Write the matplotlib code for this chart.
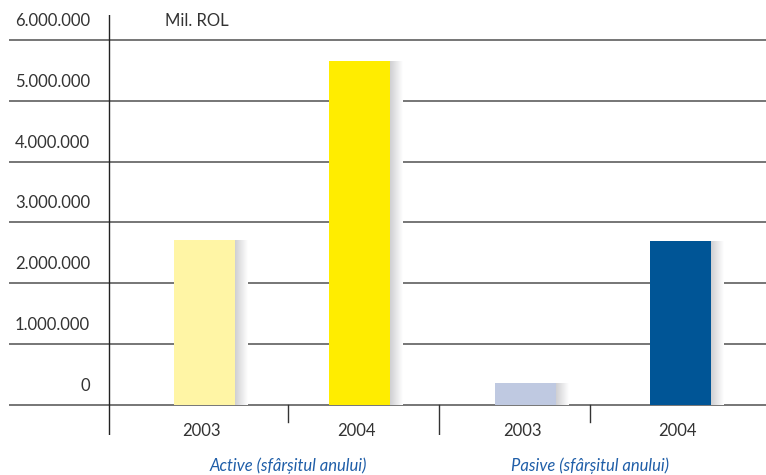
import numpy as np
import matplotlib.pyplot as plt
from matplotlib.colors import LinearSegmentedColormap
from matplotlib.transforms import blended_transform_factory

groups = ["Active (sfârșitul anului)", "Pasive (sfârșitul anului)"]
years = ["2003", "2004", "2003", "2004"]
values = [2710000, 5660000, 360000, 2690000]
colors = ["#FFF5A5", "#FFED00", "#BFC9E1", "#005596"]
yticks = [0, 1000000, 2000000, 3000000, 4000000, 5000000, 6000000]
ytick_labels = ["0", "1.000.000", "2.000.000", "3.000.000", "4.000.000", "5.000.000", "6.000.000"]

plt.rcParams['font.family'] = ['Lato', 'DejaVu Sans']
text_color = "#333333"

# bar positions: two per group, small extra gap between groups
gap = 0.07
xpos = np.array([g * (2 + gap) + i for g in range(2) for i in range(2)])
width = 0.394
shadow_w = 0.08

fig = plt.figure(figsize=(7.66, 4.75), dpi=100)
ax = fig.add_axes([9 / 766, 40 / 475, 757 / 766, 420 / 475])

shade = LinearSegmentedColormap.from_list("shade", ["#cfcfd2", "#ffffff"])
grad = np.linspace(0, 1, 64).reshape(1, -1)
for x, v, c in zip(xpos, values, colors):
    ax.imshow(grad, cmap=shade, aspect='auto', zorder=2,
              extent=[x + width / 2, x + width / 2 + shadow_w, 0, v])
    ax.bar(x, v, width=width, color=c, zorder=3)

ax.set_xlim(-1.261, 3.623)
ax.set_ylim(-502000, 6412000)
ax.axis('off')

# horizontal grid lines across the whole width
for t in yticks:
    ax.axhline(t, color="#6b6b6b", lw=1.3, zorder=1)

# vertical axis line and group separators
ax.axvline(-0.616, color="#222222", lw=1.0, zorder=4)
ax.axvline(0.539, ymin=0.031, ymax=0.0714, color="#333333", lw=1.0)
ax.axvline(1.513, ymin=0.0, ymax=0.0714, color="#333333", lw=1.0)
ax.axvline(2.487, ymin=0.031, ymax=0.0714, color="#333333", lw=1.0)

trans = blended_transform_factory(ax.transAxes, ax.transData)
for t, lab in zip(yticks, ytick_labels):
    ax.annotate(lab, xy=(0.107, t), xycoords=trans, xytext=(0, 19),
                textcoords='offset pixels', ha='right', va='center',
                fontsize=12, color=text_color)

ax.annotate("Mil. ROL", xy=(0.206, yticks[-1]), xycoords=trans, xytext=(0, 19),
            textcoords='offset pixels', ha='left', va='center',
            fontsize=12, color=text_color)

for x, y in zip(xpos, years):
    ax.annotate(y, xy=(x - 0.02, 0), xytext=(0, -26), textcoords='offset pixels',
                ha='center', va='center', fontsize=12, color=text_color)

for sep, g in zip([0.539, 2.487], groups):
    ax.annotate(g, xy=(sep, 0), xytext=(0, -61), textcoords='offset pixels',
                ha='center', va='center', fontsize=12, style='italic',
                color="#1F5EA8")

fig.savefig("out.png", dpi=100)
